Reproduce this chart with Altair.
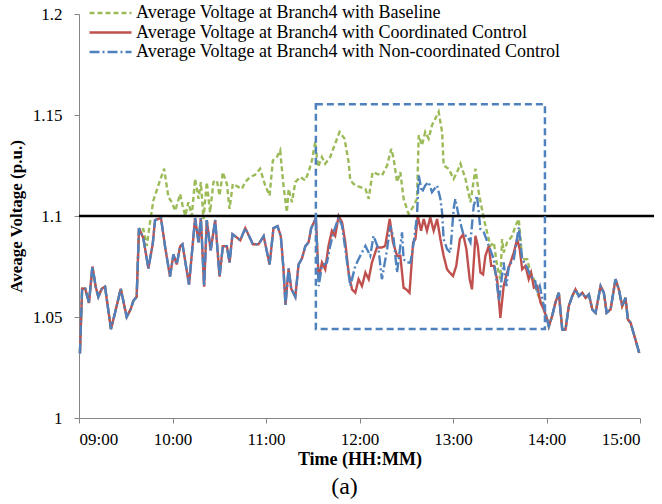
import altair as alt
import pandas as pd

# ---------------- data (time in minutes after 09:00, voltage in p.u.) ----------------
pre_t = [0.6, 2.0, 4.0, 6.4, 8.6, 10.7, 12.4, 14.6, 16.7, 20.5, 23.1, 26.8, 30.6, 33.2, 34.9, 37.0,
         38.5, 41.3, 44.5, 47.3, 48.8, 52.6, 55.4, 58.4, 60.6, 62.7, 64.9, 66.4, 68.7, 70.6, 73.1,
         74.5, 76.7, 78.2, 80.3, 82.0, 84.5, 87.4, 90.2, 92.3, 94.9, 96.6, 98.5, 103.5, 106.7,
         109.8, 111.6, 115.2, 118.5, 122.3, 124.8, 127.4, 129.5, 131.2, 132.5, 134.5, 136.2, 138.8,
         140.9, 143.1, 145.2, 147.3, 149.0, 151.1, 152.0]
pre_v = [1.032, 1.064, 1.064, 1.057, 1.075, 1.065, 1.060, 1.064, 1.065, 1.044, 1.052, 1.064, 1.050,
         1.054, 1.058, 1.060, 1.094, 1.089, 1.074, 1.086, 1.098, 1.099, 1.084, 1.070, 1.081, 1.076,
         1.085, 1.086, 1.075, 1.066, 1.087, 1.099, 1.087, 1.099, 1.065, 1.098, 1.083, 1.098, 1.070,
         1.085, 1.085, 1.077, 1.091, 1.088, 1.094, 1.089, 1.086, 1.086, 1.090, 1.076, 1.094, 1.095,
         1.090, 1.074, 1.056, 1.074, 1.064, 1.060, 1.076, 1.079, 1.085, 1.087, 1.094, 1.0975, 1.099]

coord_t = [153.8, 155.9, 158.0, 160.1, 162.3, 164.4, 166.6, 168.8, 170.9, 173.0, 175.2, 177.3, 179.4,
           181.6, 183.8, 185.9, 188.0, 191.2, 194.4, 196.5, 199.4, 201.5, 204.1, 206.2, 208.3, 210.0,
           212.1, 214.4, 215.9, 217.4, 219.5, 221.2, 223.3, 225.4, 227.6, 229.8, 231.9, 234.0, 236.2,
           237.9, 240.0, 242.1, 244.4, 246.5, 248.6, 250.7, 252.2, 254.4, 255.9, 257.6, 259.3, 260.8,
           263.0, 264.5, 266.2, 268.3, 270.4, 272.5, 274.7, 276.9, 279.0, 281.2, 282.8, 284.4, 286.5,
           288.6, 290.1, 291.9, 294.0, 296.2, 298.3]
coord_v = [1.0687, 1.0770, 1.0736, 1.0852, 1.0927, 1.0902, 1.1001, 1.0969, 1.0869, 1.0720, 1.0637,
           1.0620, 1.0687, 1.0653, 1.0720, 1.0687, 1.0770, 1.0844, 1.0844, 1.0852, 1.0985, 1.0869,
           1.0803, 1.0803, 1.0645, 1.0637, 1.0620, 1.0869, 1.0886, 1.1001, 1.0927, 1.0985, 1.0927,
           1.0993, 1.0927, 1.0985, 1.0886, 1.0803, 1.0736, 1.0720, 1.0703, 1.0753, 1.0886, 1.0910,
           1.0836, 1.0687, 1.0637, 1.0902, 1.0852, 1.0720, 1.0711, 1.0803, 1.0852, 1.0753, 1.0753,
           1.0687, 1.0496, 1.0653, 1.0720, 1.0770, 1.0819, 1.0886, 1.0836, 1.0736, 1.0753, 1.0687,
           1.0720, 1.0645, 1.0653, 1.0570, 1.0537]

noncoord_t = [153.8, 155.9, 159.1, 161.2, 163.3, 166.6, 168.8, 170.9, 174.1, 177.3, 180.5, 183.8,
              186.9, 189.0, 192.2, 194.4, 197.7, 199.8, 201.9, 204.1, 206.2, 207.3, 208.3, 210.5,
              212.7, 214.8, 216.9, 218.0, 220.1, 222.2, 224.4, 226.5, 229.8, 231.9, 233.0, 234.0,
              236.2, 238.3, 240.4, 241.5, 243.6, 245.2, 246.9, 249.1, 251.2, 253.3, 255.4, 257.6,
              259.8, 263.0, 266.2, 269.5, 272.5, 274.3, 275.8, 279.0, 282.2, 284.4, 287.6, 289.7,
              292.5, 294.0, 295.7, 297.9]
noncoord_v = [1.0653, 1.0753, 1.0770, 1.0852, 1.0919, 1.0993, 1.0952, 1.0836, 1.0653, 1.0753, 1.0803,
              1.0852, 1.0803, 1.0902, 1.0836, 1.0687, 1.0836, 1.0952, 1.0886, 1.0720, 1.0852, 1.0919,
              1.0786, 1.0770, 1.0770, 1.0869, 1.1001, 1.1200, 1.1118, 1.1151, 1.1168, 1.1118, 1.1151,
              1.1085, 1.1018, 1.0886, 1.0836, 1.0819, 1.1035, 1.1085, 1.1001, 1.0952, 1.0902, 1.0902,
              1.0869, 1.1051, 1.1101, 1.0935, 1.0919, 1.0852, 1.0786, 1.0580, 1.0770, 1.0653, 1.0753,
              1.0786, 1.0944, 1.0786, 1.0745, 1.0703, 1.0687, 1.0620, 1.0653, 1.0570]

base_t = [38.5, 41.3, 43.5, 45.6, 47.7, 50.9, 54.6, 57.4, 59.6, 61.7, 64.9, 66.5, 68.2, 70.2, 72.4,
          74.5, 76.7, 78.2, 79.9, 82.0, 84.1, 86.3, 88.5, 90.2, 92.3, 94.9, 96.6, 98.7, 102.4, 104.5,
          106.7, 109.8, 113.0, 116.2, 119.5, 122.3, 124.4, 127.0, 129.1, 131.2, 133.4, 134.5, 136.7,
          138.8, 142.0, 145.2, 147.3, 149.5, 151.6, 153.4, 155.9, 158.0, 161.2, 164.4, 167.2, 170.4,
          173.0, 174.1, 177.3, 180.5, 183.8, 185.9, 188.4, 191.2, 194.4, 197.7, 200.4, 201.9, 204.1,
          206.2, 208.3, 211.5, 214.8, 216.9, 218.0, 220.1, 222.2, 224.4, 226.5, 228.7, 230.8, 233.0,
          234.0, 237.2, 240.4, 242.6, 244.8, 248.0, 251.2, 254.4, 256.5, 259.8, 261.9, 264.0, 266.2,
          268.3, 270.4, 271.5, 272.5, 274.7, 278.0, 280.1, 282.2, 284.4, 287.6, 289.7, 291.9, 294.0,
          296.2, 298.3]
base_v = [1.0930, 1.0935, 1.0852, 1.0969, 1.1076, 1.1151, 1.1234, 1.1093, 1.1068, 1.1026, 1.1109,
          1.1051, 1.1001, 1.1068, 1.1001, 1.1184, 1.1085, 1.1168, 1.0985, 1.1168, 1.1018, 1.1168,
          1.1176, 1.1101, 1.1217, 1.1159, 1.1035, 1.1159, 1.1143, 1.1134, 1.1168, 1.1193, 1.1204,
          1.1234, 1.1151, 1.1101, 1.1275, 1.1292, 1.1325, 1.1151, 1.1018, 1.1134, 1.1068, 1.1168,
          1.1193, 1.1176, 1.1217, 1.1275, 1.1367, 1.1242, 1.1292, 1.1259, 1.1292, 1.1358, 1.1416,
          1.1383, 1.1267, 1.1176, 1.1151, 1.1143, 1.1134, 1.1085, 1.1217, 1.1209, 1.1200, 1.1250,
          1.1333, 1.1284, 1.1168, 1.1217, 1.1085, 1.1010, 1.1051, 1.1085, 1.1400, 1.1350, 1.1416,
          1.1383, 1.1449, 1.1483, 1.1516, 1.1416, 1.1250, 1.1234, 1.1184, 1.1217, 1.1259, 1.1184,
          1.1068, 1.1234, 1.1118, 1.0985, 1.0919, 1.0852, 1.0869, 1.0753, 1.0687, 1.0886, 1.0819,
          1.0869, 1.0902, 1.0952, 1.0985, 1.0786, 1.0786, 1.0720, 1.0687, 1.0620, 1.0580, 1.0537]

post_t = [300.4, 301.5, 303.6, 305.7, 307.9, 310.1, 312.2, 314.3, 316.5, 318.6, 320.7, 323.0, 325.1,
          327.2, 329.4, 331.5, 334.7, 336.8, 338.6, 341.1, 344.3, 346.4, 348.6, 350.7, 352.2, 354.0,
          359.5]
post_v = [1.0488, 1.0454, 1.0504, 1.0571, 1.0620, 1.0438, 1.0438, 1.0554, 1.0603, 1.0637, 1.0603,
          1.0620, 1.0595, 1.0612, 1.0537, 1.0521, 1.0653, 1.0620, 1.0521, 1.0537, 1.0687, 1.0637,
          1.0554, 1.0595, 1.0488, 1.0471, 1.0322]

series_names = ["Average Voltage at Branch4 with Baseline",
                "Average Voltage at Branch4 with Coordinated Control",
                "Average Voltage at Branch4 with Non-coordinated Control"]
series_colors = ["#9BBB59", "#C0504D", "#4F81BD"]
series_dashes = [[5, 3], [1, 0], [10, 3, 2, 3]]

limit_v = [1.1]
limit_t = [0, 369]
box_t = [152, 299]
box_v = [1.0441, 1.1553]

x_ticks = [0, 60, 120, 180, 240, 300, 360]
y_ticks = [1, 1.05, 1.1, 1.15, 1.2]

# ---------------- build tables ----------------
def frame(name, ts, vs):
    return pd.DataFrame({"t": ts, "v": vs, "series": name})

pre_base = [(t, v) for t, v in zip(pre_t, pre_v) if t <= 37.0]
df_base = frame(series_names[0],
                [p[0] for p in pre_base] + base_t + post_t,
                [p[1] for p in pre_base] + base_v + post_v)
df_coord = frame(series_names[1], pre_t + coord_t + post_t, pre_v + coord_v + post_v)
df_non = frame(series_names[2], pre_t + noncoord_t + post_t, pre_v + noncoord_v + post_v)

FONT = "Liberation Serif"

x_enc = alt.X("t:Q", scale=alt.Scale(domain=[0, 360], nice=False),
              axis=alt.Axis(values=x_ticks, title="Time (HH:MM)",
                            labelExpr="(datum.value/60+9 < 10 ? '0' : '') + (datum.value/60+9) + ':00'",
                            labelFont=FONT, labelFontSize=17, labelColor="black",
                            titleFont=FONT, titleFontSize=18, titleFontWeight="bold",
                            labelPadding=8, titlePadding=3))
y_enc = alt.Y("v:Q", scale=alt.Scale(domain=[1, 1.2], nice=False, zero=False),
              axis=alt.Axis(values=y_ticks, format="~g", title="Aveage Voltage (p.u.)",
                            labelFont=FONT, labelFontSize=17, labelColor="black",
                            titleFont=FONT, titleFontSize=17, titleFontWeight="bold",
                            labelPadding=12, titlePadding=7))
legend_props = dict(title=None, orient="none", legendX=9, legendY=-10,
                    symbolType="stroke", symbolSize=1764, symbolStrokeWidth=2.5,
                    labelOffset=3, clipHeight=18, rowPadding=1.5, padding=0,
                    labelFont=FONT, labelFontSize=18, labelColor="black", labelLimit=600)
color_enc = alt.Color("series:N", scale=alt.Scale(domain=series_names, range=series_colors),
                      legend=alt.Legend(**legend_props))
dash_enc = alt.StrokeDash("series:N", scale=alt.Scale(domain=series_names, range=series_dashes),
                          legend=alt.Legend(**legend_props))

def line_layer(df):
    return alt.Chart(df).mark_line(strokeWidth=2.4).encode(
        x=x_enc, y=y_enc, color=color_enc, strokeDash=dash_enc, order=alt.Order("t:Q"))

limit_df = pd.DataFrame({"t": [limit_t[0]], "t2": [limit_t[1]], "v": limit_v})
limit = alt.Chart(limit_df).mark_rule(color="black", strokeWidth=2.6).encode(
    x="t:Q", x2="t2:Q", y="v:Q")

box_df = pd.DataFrame({"t": [box_t[0]], "t2": [box_t[1]], "v": [box_v[0]], "v2": [box_v[1]]})
box = alt.Chart(box_df).mark_rect(fillOpacity=0, stroke="#4F81BD", strokeWidth=2.5,
                                  strokeDash=[7, 4]).encode(
    x="t:Q", x2="t2:Q", y="v:Q", y2="v2:Q")

chart = alt.layer(
    line_layer(df_base), line_layer(df_coord), line_layer(df_non), limit, box
).properties(
    width=561, height=404,
    padding={"left": 79, "top": 14, "right": 22, "bottom": 86},
    autosize=alt.AutoSizeParams(type="none"),
    title=alt.TitleParams("(a)", orient="bottom", anchor="middle", font=FONT, fontSize=24,
                          fontWeight="normal", color="black", offset=7, dx=-15),
).configure_view(stroke=None).configure_axis(
    labelFont=FONT, titleFont=FONT, titleColor="black",
    domainColor="#868686", tickColor="#868686", tickSize=5, grid=False
)

chart.save("out.html", embed_options={"renderer": "svg", "actions": False})
